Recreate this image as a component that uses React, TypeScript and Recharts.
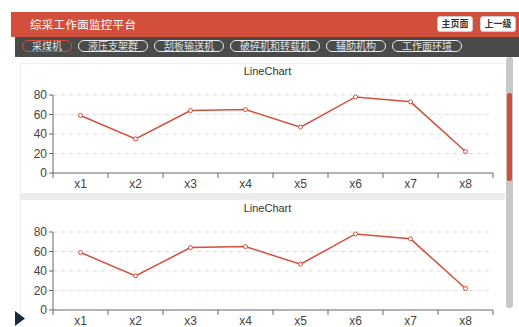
import React from 'react';
import { LineChart, Line, XAxis, YAxis, CartesianGrid } from 'recharts';

const categories = ['x1', 'x2', 'x3', 'x4', 'x5', 'x6', 'x7', 'x8'];
const shearerValues = [59, 35, 64, 65, 47, 78, 73, 22];
const yTicks = [0, 20, 40, 60, 80];
const tabs = ['采煤机', '液压支架群', '刮板输送机', '破碎机和转载机', '辅助机构', '工作面环境'];
const navButtons = ['主页面', '上一级'];

const RED = '#d24f3b';
const AXIS = '#666';
const FONT = '"Liberation Sans", Arial, sans-serif';
const CJK = '"Noto Sans CJK SC", sans-serif';

const data = categories.map((name, i) => ({ name, value: shearerValues[i] }));

// category labels sit mid-band, the small tick marks sit on band edges
const BandTick = (props: any) => {
  const { x, y, payload, index, visibleTicksCount } = props;
  const half = payload?.offset ?? 0;
  const last = index === visibleTicksCount - 1;
  return (
    <g>
      <line x1={x - half} x2={x - half} y1={y} y2={y + 5} stroke={AXIS} />
      {last && <line x1={x + half} x2={x + half} y1={y} y2={y + 5} stroke={AXIS} />}
      <text x={x} y={y + 15} textAnchor="middle" fill="#444" fontSize={12} fontFamily={FONT}>
        {payload.value}
      </text>
    </g>
  );
};

const Panel = ({ top, height, plotTop }: { top: number; height: number; plotTop: number }) => (
  <div style={{ position: 'absolute', left: 0, top, width: 505, height }}>
    <div
      style={{
        position: 'absolute',
        left: 0,
        width: 535,
        top: plotTop - 30,
        textAlign: 'center',
        fontSize: 11,
        fontFamily: FONT,
        color: '#333',
      }}
    >
      LineChart
    </div>
    <LineChart width={505} height={height} data={data} margin={{ top: plotTop, right: 12, left: 0, bottom: 0 }}>
      <CartesianGrid vertical={false} stroke="#ddd" strokeDasharray="4 4" horizontalValues={[20, 40, 60, 80]} />
      <XAxis
        dataKey="name"
        scale="band"
        height={22}
        tickLine={false}
        tickSize={0}
        tickMargin={0}
        axisLine={{ stroke: AXIS }}
        tick={<BandTick />}
        interval={0}
      />
      <YAxis
        width={53}
        domain={[0, 80]}
        ticks={yTicks}
        interval={0}
        tickSize={4}
        tickMargin={2}
        tickLine={{ stroke: AXIS }}
        axisLine={{ stroke: AXIS }}
        tick={{ fill: '#444', fontSize: 12, fontFamily: FONT }}
      />
      <Line
        type="linear"
        dataKey="value"
        stroke={RED}
        strokeWidth={1.5}
        dot={{ r: 2, fill: '#fff', stroke: RED, strokeWidth: 1 }}
        isAnimationActive={false}
      />
    </LineChart>
  </div>
);

export default function App() {
  return (
    <div style={{ position: 'fixed', left: 0, top: 0, width: 519, height: 327, background: '#fff', overflow: 'hidden' }}>
      {/* header */}
      <div style={{ position: 'absolute', left: 11, top: 12, width: 508, height: 25, background: RED }}>
        <div
          style={{
            position: 'absolute',
            left: 19,
            top: 4,
            color: '#fff',
            fontSize: 11.5,
            fontFamily: CJK,
            letterSpacing: 0.3,
          }}
        >
          综采工作面监控平台
        </div>
        {navButtons.map((label, i) => (
          <div
            key={label}
            style={{
              position: 'absolute',
              left: 426 + i * 43,
              top: 4,
              width: 36,
              height: 16,
              background: '#fff',
              border: '1px solid #ccc',
              boxSizing: 'border-box',
              borderRadius: 3,
              fontSize: 9,
              fontWeight: 'bold',
              fontFamily: CJK,
              color: '#333',
              textAlign: 'center',
              lineHeight: '14px',
            }}
          >
            {label}
          </div>
        ))}
      </div>

      {/* tab bar */}
      <div style={{ position: 'absolute', left: 15, top: 37, width: 504, height: 20, background: '#4a4a4a' }}>
        <div style={{ position: 'absolute', left: 7, top: 3, display: 'flex', gap: 6 }}>
          {tabs.map((t, i) => (
            <div
              key={t}
              style={{
                height: 10,
                lineHeight: '10px',
                padding: '0 9px',
                border: `1.5px solid ${i === 0 ? RED : '#e8e8e8'}`,
                borderRadius: 7,
                color: '#e0e0e0',
                fontSize: 10,
                fontFamily: CJK,
                whiteSpace: 'nowrap',
              }}
            >
              {t}
            </div>
          ))}
        </div>
      </div>

      {/* content panels */}
      <div style={{ position: 'absolute', left: 20, top: 63, width: 485, height: 264, borderTop: '1px solid #eee', borderLeft: '1px solid #eee' }} />
      <div style={{ position: 'absolute', left: 20, top: 193, width: 485, height: 7, background: '#ececec' }} />
      <Panel top={60} height={135} plotTop={35} />
      <Panel top={200} height={132} plotTop={32} />

      {/* scrollbar */}
      <div style={{ position: 'absolute', left: 506, top: 57, width: 7, height: 251, background: '#c8c8c8', borderRadius: 3 }} />
      <div style={{ position: 'absolute', left: 507, top: 93, width: 5, height: 88, background: RED, borderRadius: 2 }} />

      {/* collapse arrow */}
      <svg style={{ position: 'absolute', left: 15, top: 311 }} width={10} height={15}>
        <polygon points="0,0 10,7.5 0,15" fill="#1c2b3a" />
      </svg>
    </div>
  );
}
